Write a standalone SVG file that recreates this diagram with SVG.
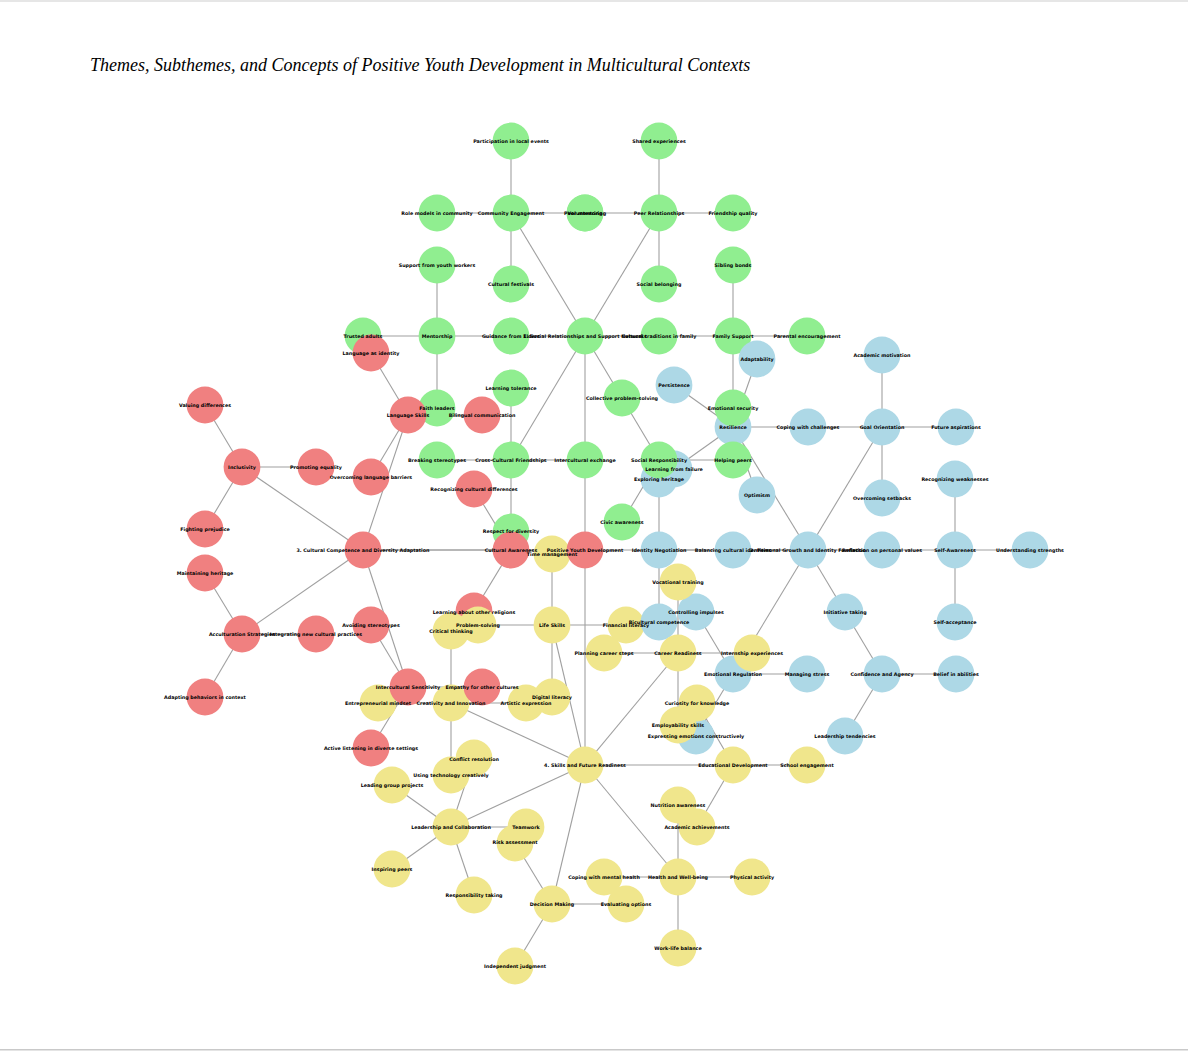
<svg xmlns="http://www.w3.org/2000/svg" width="1188" height="1052" viewBox="0 0 1188 1052">
<style>
.g{fill:#90EE90}.r{fill:#F08080}.b{fill:#ADD8E6}.y{fill:#F0E68C}
circle{r:18.4px}
#edges line{stroke:#a0a0a0;stroke-width:1.1}
#labels text{font-family:"DejaVu Sans",sans-serif;font-weight:bold;font-size:4.8px;text-anchor:middle;dominant-baseline:central;fill:#000}
.title{font-family:"Liberation Serif","Times New Roman",serif;font-style:italic;font-size:18px;fill:#000}
</style>
<rect x="0" y="0" width="1188" height="1052" fill="#fff"/>
<rect x="0" y="0" width="1188" height="2" fill="#e6e6e6"/>
<rect x="0" y="1049" width="1188" height="1.5" fill="#c9c9c9"/>
<text class="title" x="90" y="71">Themes, Subthemes, and Concepts of Positive Youth Development in Multicultural Contexts</text>
<g id="edges">
<line x1="585" y1="550" x2="585" y2="336"/>
<line x1="585" y1="550" x2="808" y2="550"/>
<line x1="585" y1="550" x2="363" y2="550"/>
<line x1="585" y1="550" x2="585" y2="765"/>
<line x1="585" y1="336" x2="511" y2="213"/>
<line x1="511" y1="213" x2="511" y2="141"/>
<line x1="511" y1="213" x2="437" y2="213"/>
<line x1="511" y1="213" x2="511" y2="284"/>
<line x1="511" y1="213" x2="585" y2="213"/>
<line x1="585" y1="336" x2="659" y2="213"/>
<line x1="659" y1="213" x2="659" y2="141"/>
<line x1="659" y1="213" x2="733" y2="213"/>
<line x1="659" y1="213" x2="659" y2="284"/>
<line x1="659" y1="213" x2="585" y2="213"/>
<line x1="585" y1="336" x2="437" y2="336"/>
<line x1="437" y1="336" x2="437" y2="265"/>
<line x1="437" y1="336" x2="363" y2="336"/>
<line x1="437" y1="336" x2="437" y2="408"/>
<line x1="585" y1="336" x2="733" y2="336"/>
<line x1="733" y1="336" x2="733" y2="265"/>
<line x1="733" y1="336" x2="807" y2="336"/>
<line x1="733" y1="336" x2="733" y2="408"/>
<line x1="585" y1="336" x2="511" y2="460"/>
<line x1="511" y1="460" x2="511" y2="388"/>
<line x1="511" y1="460" x2="437" y2="460"/>
<line x1="511" y1="460" x2="585" y2="460"/>
<line x1="511" y1="460" x2="511" y2="532"/>
<line x1="585" y1="336" x2="659" y2="460"/>
<line x1="659" y1="460" x2="733" y2="460"/>
<line x1="659" y1="460" x2="622" y2="522"/>
<line x1="808" y1="550" x2="733" y2="427"/>
<line x1="733" y1="427" x2="674" y2="385"/>
<line x1="733" y1="427" x2="757" y2="359"/>
<line x1="733" y1="427" x2="808" y2="427"/>
<line x1="733" y1="427" x2="757" y2="495"/>
<line x1="733" y1="427" x2="674" y2="469"/>
<line x1="808" y1="550" x2="882" y2="427"/>
<line x1="882" y1="427" x2="882" y2="355"/>
<line x1="882" y1="427" x2="956" y2="427"/>
<line x1="882" y1="427" x2="882" y2="498"/>
<line x1="882" y1="427" x2="808" y2="427"/>
<line x1="808" y1="550" x2="659" y2="550"/>
<line x1="659" y1="550" x2="659" y2="479"/>
<line x1="659" y1="550" x2="659" y2="622"/>
<line x1="808" y1="550" x2="955" y2="550"/>
<line x1="955" y1="550" x2="955" y2="479"/>
<line x1="955" y1="550" x2="1030" y2="550"/>
<line x1="955" y1="550" x2="955" y2="622"/>
<line x1="808" y1="550" x2="882" y2="674"/>
<line x1="882" y1="674" x2="956" y2="674"/>
<line x1="882" y1="674" x2="845" y2="736"/>
<line x1="808" y1="550" x2="733" y2="674"/>
<line x1="733" y1="674" x2="807" y2="674"/>
<line x1="733" y1="674" x2="696" y2="612"/>
<line x1="733" y1="674" x2="696" y2="736"/>
<line x1="363" y1="550" x2="242" y2="467"/>
<line x1="242" y1="467" x2="205" y2="405"/>
<line x1="242" y1="467" x2="205" y2="529"/>
<line x1="242" y1="467" x2="316" y2="467"/>
<line x1="363" y1="550" x2="408" y2="415"/>
<line x1="408" y1="415" x2="371" y2="353"/>
<line x1="408" y1="415" x2="371" y2="477"/>
<line x1="408" y1="415" x2="482" y2="415"/>
<line x1="363" y1="550" x2="242" y2="634"/>
<line x1="242" y1="634" x2="205" y2="573"/>
<line x1="242" y1="634" x2="205" y2="697"/>
<line x1="242" y1="634" x2="316" y2="634"/>
<line x1="363" y1="550" x2="408" y2="687"/>
<line x1="408" y1="687" x2="371" y2="625"/>
<line x1="408" y1="687" x2="371" y2="748"/>
<line x1="408" y1="687" x2="482" y2="687"/>
<line x1="363" y1="550" x2="511" y2="550"/>
<line x1="511" y1="550" x2="474" y2="489"/>
<line x1="511" y1="550" x2="474" y2="611"/>
<line x1="585" y1="765" x2="552" y2="625"/>
<line x1="552" y1="625" x2="552" y2="554"/>
<line x1="552" y1="625" x2="626" y2="625"/>
<line x1="552" y1="625" x2="478" y2="625"/>
<line x1="552" y1="625" x2="552" y2="697"/>
<line x1="585" y1="765" x2="451" y2="703"/>
<line x1="451" y1="703" x2="451" y2="631"/>
<line x1="451" y1="703" x2="378" y2="703"/>
<line x1="451" y1="703" x2="526" y2="703"/>
<line x1="451" y1="703" x2="451" y2="775"/>
<line x1="585" y1="765" x2="451" y2="827"/>
<line x1="451" y1="827" x2="392" y2="785"/>
<line x1="451" y1="827" x2="392" y2="869"/>
<line x1="451" y1="827" x2="526" y2="827"/>
<line x1="451" y1="827" x2="474" y2="895"/>
<line x1="451" y1="827" x2="474" y2="758"/>
<line x1="585" y1="765" x2="552" y2="904"/>
<line x1="552" y1="904" x2="515" y2="843"/>
<line x1="552" y1="904" x2="626" y2="904"/>
<line x1="552" y1="904" x2="515" y2="966"/>
<line x1="585" y1="765" x2="678" y2="877"/>
<line x1="678" y1="877" x2="604" y2="877"/>
<line x1="678" y1="877" x2="752" y2="877"/>
<line x1="678" y1="877" x2="678" y2="948"/>
<line x1="678" y1="877" x2="678" y2="805"/>
<line x1="585" y1="765" x2="733" y2="765"/>
<line x1="733" y1="765" x2="807" y2="765"/>
<line x1="733" y1="765" x2="697" y2="827"/>
<line x1="733" y1="765" x2="697" y2="703"/>
<line x1="585" y1="765" x2="678" y2="653"/>
<line x1="678" y1="653" x2="678" y2="582"/>
<line x1="678" y1="653" x2="604" y2="653"/>
<line x1="678" y1="653" x2="752" y2="653"/>
<line x1="678" y1="653" x2="678" y2="725"/>
</g>
<g id="nodes">
<g id="n-t2"><circle class="b" cx="808" cy="550"/></g>
<g id="n-resilience"><circle class="b" cx="733" cy="427"/></g>
<g id="n-goal"><circle class="b" cx="882" cy="427"/></g>
<g id="n-identity"><circle class="b" cx="659" cy="550"/></g>
<g id="n-self-awareness"><circle class="b" cx="955" cy="550"/></g>
<g id="n-confidence"><circle class="b" cx="882" cy="674"/></g>
<g id="n-emo-reg"><circle class="b" cx="733" cy="674"/></g>
<g id="n-persistence"><circle class="b" cx="674" cy="385"/></g>
<g id="n-coping-challenges"><circle class="b" cx="808" cy="427"/></g>
<g id="n-optimism"><circle class="b" cx="757" cy="495"/></g>
<g id="n-failure"><circle class="b" cx="674" cy="469"/></g>
<g id="n-academic-motivation"><circle class="b" cx="882" cy="355"/></g>
<g id="n-aspirations"><circle class="b" cx="956" cy="427"/></g>
<g id="n-setbacks"><circle class="b" cx="882" cy="498"/></g>
<g id="n-exploring"><circle class="b" cx="659" cy="479"/></g>
<g id="n-balancing"><circle class="b" cx="733" cy="550"/></g>
<g id="n-weaknesses"><circle class="b" cx="955" cy="479"/></g>
<g id="n-strengths"><circle class="b" cx="1030" cy="550"/></g>
<g id="n-self-acceptance"><circle class="b" cx="955" cy="622"/></g>
<g id="n-reflection"><circle class="b" cx="882" cy="550"/></g>
<g id="n-initiative"><circle class="b" cx="845" cy="612"/></g>
<g id="n-belief"><circle class="b" cx="956" cy="674"/></g>
<g id="n-leadership-tend"><circle class="b" cx="845" cy="736"/></g>
<g id="n-stress"><circle class="b" cx="807" cy="674"/></g>
<g id="n-impulses"><circle class="b" cx="696" cy="612"/></g>
<g id="n-expressing"><circle class="b" cx="696" cy="736"/></g>
<g id="n-t1"><circle class="g" cx="585" cy="336"/></g>
<g id="n-ce"><circle class="g" cx="511" cy="213"/></g>
<g id="n-participation"><circle class="g" cx="511" cy="141"/></g>
<g id="n-role-models"><circle class="g" cx="437" cy="213"/></g>
<g id="n-festivals"><circle class="g" cx="511" cy="284"/></g>
<g id="n-volunteering"><circle class="g" cx="585" cy="213"/></g>
<g id="n-pr"><circle class="g" cx="659" cy="213"/></g>
<g id="n-shared"><circle class="g" cx="659" cy="141"/></g>
<g id="n-friendship"><circle class="g" cx="733" cy="213"/></g>
<g id="n-belonging"><circle class="g" cx="659" cy="284"/></g>
<g id="n-peer-mentoring"><circle class="g" cx="585" cy="213"/></g>
<g id="n-mentorship"><circle class="g" cx="437" cy="336"/></g>
<g id="n-youth-workers"><circle class="g" cx="437" cy="265"/></g>
<g id="n-trusted"><circle class="g" cx="363" cy="336"/></g>
<g id="n-faith"><circle class="g" cx="437" cy="408"/></g>
<g id="n-elders"><circle class="g" cx="511" cy="336"/></g>
<g id="n-family"><circle class="g" cx="733" cy="336"/></g>
<g id="n-sibling"><circle class="g" cx="733" cy="265"/></g>
<g id="n-parental"><circle class="g" cx="807" cy="336"/></g>
<g id="n-emo-security"><circle class="g" cx="733" cy="408"/></g>
<g id="n-traditions"><circle class="g" cx="659" cy="336"/></g>
<g id="n-ccf"><circle class="g" cx="511" cy="460"/></g>
<g id="n-tolerance"><circle class="g" cx="511" cy="388"/></g>
<g id="n-breaking"><circle class="g" cx="437" cy="460"/></g>
<g id="n-exchange"><circle class="g" cx="585" cy="460"/></g>
<g id="n-respect"><circle class="g" cx="511" cy="532"/></g>
<g id="n-sr"><circle class="g" cx="659" cy="460"/></g>
<g id="n-collective"><circle class="g" cx="622" cy="398"/></g>
<g id="n-helping"><circle class="g" cx="733" cy="460"/></g>
<g id="n-civic"><circle class="g" cx="622" cy="522"/></g>
<g id="n-adaptability"><circle class="b" cx="757" cy="359"/></g>
<g id="n-financial"><circle class="y" cx="626" cy="625"/></g>
<g id="n-bicultural"><circle class="b" cx="659" cy="622"/></g>
<g id="n-religions"><circle class="r" cx="474" cy="611"/></g>
<g id="n-t4"><circle class="y" cx="585" cy="765"/></g>
<g id="n-life-skills"><circle class="y" cx="552" cy="625"/></g>
<g id="n-time"><circle class="y" cx="552" cy="554"/></g>
<g id="n-problem"><circle class="y" cx="478" cy="625"/></g>
<g id="n-creativity"><circle class="y" cx="451" cy="703"/></g>
<g id="n-critical"><circle class="y" cx="451" cy="631"/></g>
<g id="n-entrepreneurial"><circle class="y" cx="378" cy="703"/></g>
<g id="n-artistic"><circle class="y" cx="526" cy="703"/></g>
<g id="n-digital"><circle class="y" cx="552" cy="697"/></g>
<g id="n-leadership"><circle class="y" cx="451" cy="827"/></g>
<g id="n-leading"><circle class="y" cx="392" cy="785"/></g>
<g id="n-inspiring"><circle class="y" cx="392" cy="869"/></g>
<g id="n-conflict"><circle class="y" cx="474" cy="758"/></g>
<g id="n-tech"><circle class="y" cx="451" cy="775"/></g>
<g id="n-responsibility"><circle class="y" cx="474" cy="895"/></g>
<g id="n-teamwork"><circle class="y" cx="526" cy="827"/></g>
<g id="n-decision"><circle class="y" cx="552" cy="904"/></g>
<g id="n-risk"><circle class="y" cx="515" cy="843"/></g>
<g id="n-independent"><circle class="y" cx="515" cy="966"/></g>
<g id="n-health"><circle class="y" cx="678" cy="877"/></g>
<g id="n-coping-mh"><circle class="y" cx="604" cy="877"/></g>
<g id="n-evaluating"><circle class="y" cx="626" cy="904"/></g>
<g id="n-physical"><circle class="y" cx="752" cy="877"/></g>
<g id="n-worklife"><circle class="y" cx="678" cy="948"/></g>
<g id="n-nutrition"><circle class="y" cx="678" cy="805"/></g>
<g id="n-education"><circle class="y" cx="733" cy="765"/></g>
<g id="n-school"><circle class="y" cx="807" cy="765"/></g>
<g id="n-achievements"><circle class="y" cx="697" cy="827"/></g>
<g id="n-career"><circle class="y" cx="678" cy="653"/></g>
<g id="n-vocational"><circle class="y" cx="678" cy="582"/></g>
<g id="n-planning"><circle class="y" cx="604" cy="653"/></g>
<g id="n-internship"><circle class="y" cx="752" cy="653"/></g>
<g id="n-curiosity"><circle class="y" cx="697" cy="703"/></g>
<g id="n-employability"><circle class="y" cx="678" cy="725"/></g>
<g id="n-t3"><circle class="r" cx="363" cy="550"/></g>
<g id="n-inclusivity"><circle class="r" cx="242" cy="467"/></g>
<g id="n-valuing"><circle class="r" cx="205" cy="405"/></g>
<g id="n-prejudice"><circle class="r" cx="205" cy="529"/></g>
<g id="n-equality"><circle class="r" cx="316" cy="467"/></g>
<g id="n-lang-skills"><circle class="r" cx="408" cy="415"/></g>
<g id="n-lang-identity"><circle class="r" cx="371" cy="353"/></g>
<g id="n-lang-barriers"><circle class="r" cx="371" cy="477"/></g>
<g id="n-bilingual"><circle class="r" cx="482" cy="415"/></g>
<g id="n-acculturation"><circle class="r" cx="242" cy="634"/></g>
<g id="n-maintaining"><circle class="r" cx="205" cy="573"/></g>
<g id="n-adapting"><circle class="r" cx="205" cy="697"/></g>
<g id="n-integrating"><circle class="r" cx="316" cy="634"/></g>
<g id="n-ic-sensitivity"><circle class="r" cx="408" cy="687"/></g>
<g id="n-avoiding"><circle class="r" cx="371" cy="625"/></g>
<g id="n-listening"><circle class="r" cx="371" cy="748"/></g>
<g id="n-empathy"><circle class="r" cx="482" cy="687"/></g>
<g id="n-cult-awareness"><circle class="r" cx="511" cy="550"/></g>
<g id="n-recognizing"><circle class="r" cx="474" cy="489"/></g>
<g id="n-root"><circle class="r" cx="585" cy="550"/></g>
</g>
<g id="labels">
<text x="585" y="550">Positive Youth Development</text>
<text x="585" y="336">1. Social Relationships and Support Networks</text>
<text x="808" y="550">2. Personal Growth and Identity Formation</text>
<text x="363" y="550">3. Cultural Competence and Diversity Adaptation</text>
<text x="585" y="765">4. Skills and Future Readiness</text>
<text x="511" y="213">Community Engagement</text>
<text x="511" y="141">Participation in local events</text>
<text x="437" y="213">Role models in community</text>
<text x="511" y="284">Cultural festivals</text>
<text x="585" y="213">Volunteering</text>
<text x="585" y="213">Peer mentoring</text>
<text x="659" y="213">Peer Relationships</text>
<text x="659" y="141">Shared experiences</text>
<text x="733" y="213">Friendship quality</text>
<text x="659" y="284">Social belonging</text>
<text x="437" y="336">Mentorship</text>
<text x="437" y="265">Support from youth workers</text>
<text x="363" y="336">Trusted adults</text>
<text x="437" y="408">Faith leaders</text>
<text x="511" y="336">Guidance from Elders</text>
<text x="733" y="336">Family Support</text>
<text x="733" y="265">Sibling bonds</text>
<text x="807" y="336">Parental encouragement</text>
<text x="733" y="408">Emotional security</text>
<text x="659" y="336">Cultural traditions in family</text>
<text x="511" y="460">Cross-Cultural Friendships</text>
<text x="511" y="388">Learning tolerance</text>
<text x="437" y="460">Breaking stereotypes</text>
<text x="585" y="460">Intercultural exchange</text>
<text x="511" y="531">Respect for diversity</text>
<text x="659" y="460">Social Responsibility</text>
<text x="622" y="398">Collective problem-solving</text>
<text x="733" y="460">Helping peers</text>
<text x="622" y="522">Civic awareness</text>
<text x="733" y="427">Resilience</text>
<text x="674" y="385">Persistence</text>
<text x="757" y="359">Adaptability</text>
<text x="808" y="427">Coping with challenges</text>
<text x="757" y="495">Optimism</text>
<text x="674" y="469">Learning from failure</text>
<text x="882" y="427">Goal Orientation</text>
<text x="882" y="355">Academic motivation</text>
<text x="956" y="427">Future aspirations</text>
<text x="882" y="498">Overcoming setbacks</text>
<text x="659" y="550">Identity Negotiation</text>
<text x="659" y="479">Exploring heritage</text>
<text x="733" y="550">Balancing cultural identities</text>
<text x="659" y="622">Bicultural competence</text>
<text x="955" y="550">Self-Awareness</text>
<text x="955" y="479">Recognizing weaknesses</text>
<text x="1030" y="550">Understanding strengths</text>
<text x="955" y="622">Self-acceptance</text>
<text x="882" y="550">Reflection on personal values</text>
<text x="882" y="674">Confidence and Agency</text>
<text x="845" y="612">Initiative taking</text>
<text x="956" y="674">Belief in abilities</text>
<text x="845" y="736">Leadership tendencies</text>
<text x="733" y="674">Emotional Regulation</text>
<text x="807" y="674">Managing stress</text>
<text x="696" y="612">Controlling impulses</text>
<text x="696" y="736">Expressing emotions constructively</text>
<text x="242" y="467">Inclusivity</text>
<text x="205" y="405">Valuing differences</text>
<text x="205" y="529">Fighting prejudice</text>
<text x="316" y="467">Promoting equality</text>
<text x="408" y="415">Language Skills</text>
<text x="371" y="353">Language as identity</text>
<text x="371" y="477">Overcoming language barriers</text>
<text x="482" y="415">Bilingual communication</text>
<text x="242" y="634">Acculturation Strategies</text>
<text x="205" y="573">Maintaining heritage</text>
<text x="205" y="697">Adapting behaviors in context</text>
<text x="316" y="634">Integrating new cultural practices</text>
<text x="408" y="687">Intercultural Sensitivity</text>
<text x="371" y="625">Avoiding stereotypes</text>
<text x="371" y="748">Active listening in diverse settings</text>
<text x="482" y="687">Empathy for other cultures</text>
<text x="511" y="550">Cultural Awareness</text>
<text x="474" y="489">Recognizing cultural differences</text>
<text x="474" y="612">Learning about other religions</text>
<text x="552" y="625">Life Skills</text>
<text x="552" y="554">Time management</text>
<text x="626" y="625">Financial literacy</text>
<text x="478" y="625">Problem-solving</text>
<text x="552" y="697">Digital literacy</text>
<text x="451" y="703">Creativity and Innovation</text>
<text x="451" y="631">Critical thinking</text>
<text x="378" y="703">Entrepreneurial mindset</text>
<text x="526" y="703">Artistic expression</text>
<text x="451" y="775">Using technology creatively</text>
<text x="451" y="827">Leadership and Collaboration</text>
<text x="392" y="785">Leading group projects</text>
<text x="392" y="869">Inspiring peers</text>
<text x="526" y="827">Teamwork</text>
<text x="474" y="895">Responsibility taking</text>
<text x="474" y="759">Conflict resolution</text>
<text x="552" y="904">Decision Making</text>
<text x="515" y="842">Risk assessment</text>
<text x="626" y="904">Evaluating options</text>
<text x="515" y="966">Independent judgment</text>
<text x="678" y="877">Health and Well-being</text>
<text x="604" y="877">Coping with mental health</text>
<text x="752" y="877">Physical activity</text>
<text x="678" y="948">Work-life balance</text>
<text x="678" y="805">Nutrition awareness</text>
<text x="733" y="765">Educational Development</text>
<text x="807" y="765">School engagement</text>
<text x="697" y="827">Academic achievements</text>
<text x="697" y="703">Curiosity for knowledge</text>
<text x="678" y="653">Career Readiness</text>
<text x="678" y="582">Vocational training</text>
<text x="604" y="653">Planning career steps</text>
<text x="752" y="653">Internship experiences</text>
<text x="678" y="725">Employability skills</text>
</g>
</svg>
